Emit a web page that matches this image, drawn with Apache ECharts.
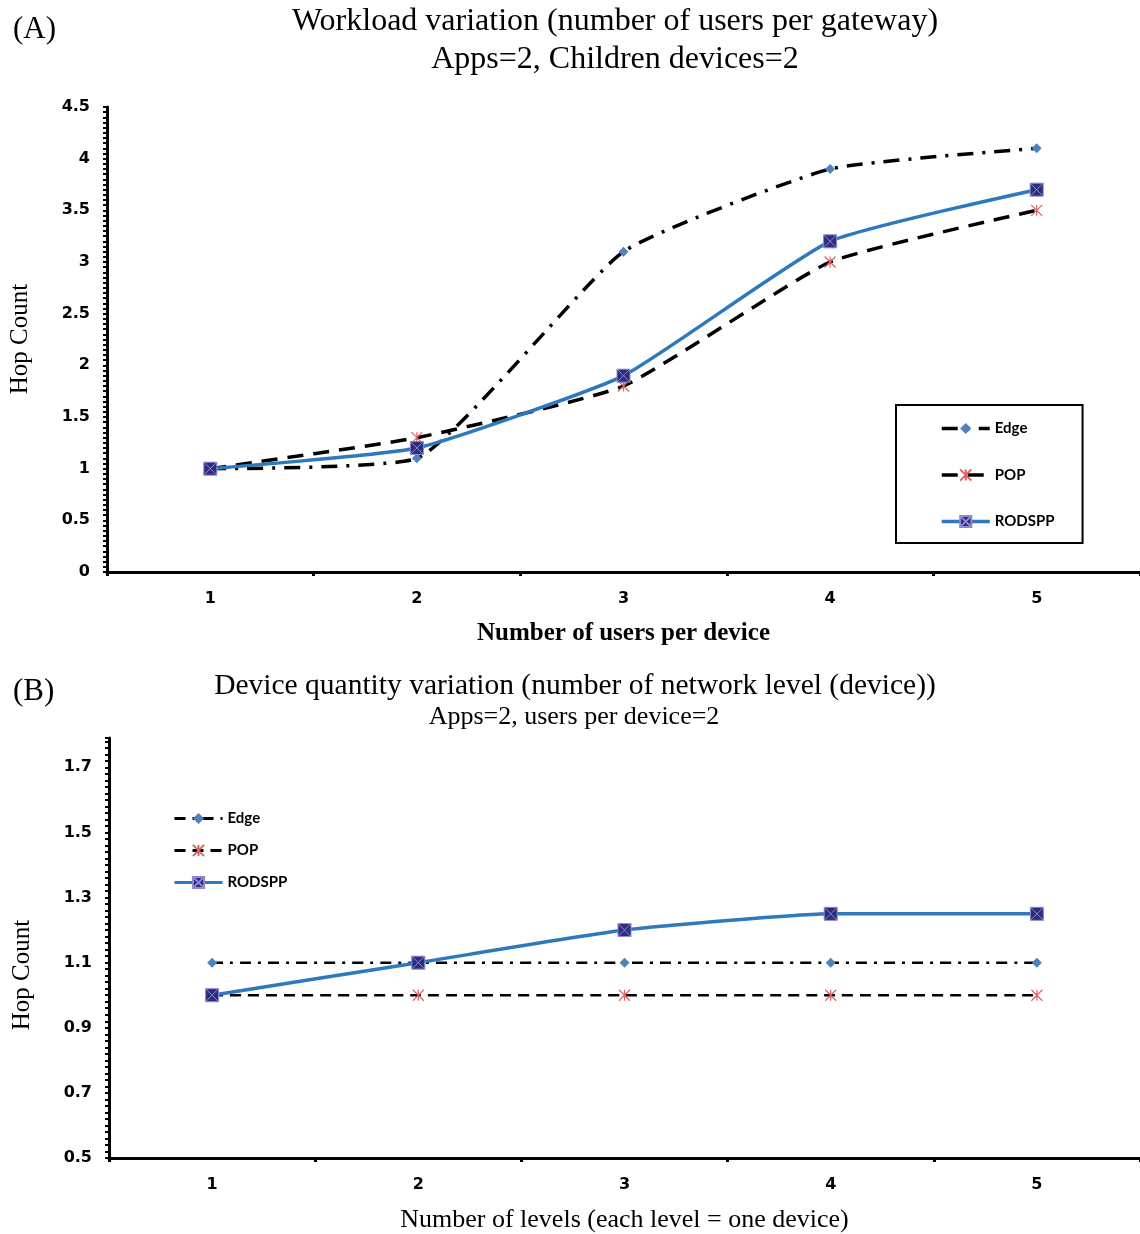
<!DOCTYPE html>
<html>
<head>
<meta charset="utf-8">
<script src="https://cdn.jsdelivr.net/npm/echarts@6/dist/echarts.min.js"></script>
<style>html,body{margin:0;padding:0;background:#fff}#c{width:1140px;height:1234px}</style>
</head>
<body>
<div id="c"></div>
<script>
const categoriesA = ['1', '2', '3', '4', '5'];
const edgeA = [1, 1.1, 3.1, 3.9, 4.1];
const popA = [1, 1.3, 1.8, 3.0, 3.5];
const rodsppA = [1, 1.2, 1.9, 3.2, 3.7];

const categoriesB = ['1', '2', '3', '4', '5'];
const edgeB = [1.1, 1.1, 1.1, 1.1, 1.1];
const popB = [1, 1, 1, 1, 1];
const rodsppB = [1, 1.1, 1.2, 1.25, 1.25];

const legendNames = ['Edge', 'POP', 'RODSPP'];

const SERIF = "'Liberation Serif', 'Times New Roman', serif";
const SANS = "'DejaVu Sans', Verdana, sans-serif";
const EDGE_C = '#4F81BD', POP_C = '#E06060', ROD_C = '#2E78BE';
const SQ_PATH = 'path://M0,0L10,0L10,10L0,10ZM0,0L10,10M10,0L0,10';
const AST_PATH = 'path://M0,0L10,10M10,0L0,10M5,0L5,10';

function series(name, data, xi, kind, w) {
  const base = { name, type: 'line', data, xAxisIndex: xi, yAxisIndex: xi, smooth: 0.15, z: 3 };
  if (kind === 'edge') {
    return Object.assign(base, {
      symbol: 'diamond', symbolSize: 10,
      itemStyle: { color: EDGE_C },
      lineStyle: { color: '#000', width: w, type: xi === 0 ? [16, 9, 3, 9] : [11, 7, 3, 7] }
    });
  }
  if (kind === 'pop') {
    return Object.assign(base, {
      symbol: AST_PATH, symbolSize: 11,
      itemStyle: { color: POP_C, borderColor: POP_C, borderWidth: 1.2 },
      lineStyle: { color: '#000', width: w, type: xi === 0 ? [16, 10] : [11, 7] }
    });
  }
  return Object.assign(base, {
    symbol: SQ_PATH, symbolSize: 13, z: 4,
    itemStyle: { color: '#2B2D7E', borderColor: '#9088CC', borderWidth: 1 },
    lineStyle: { color: ROD_C, width: 3.5, type: 'solid' }
  });
}

const xAxisCommon = (data, gap) => ({
  type: 'category', data,
  axisLine: { lineStyle: { color: '#000', width: 3 } },
  axisTick: { show: true, length: 4, lineStyle: { color: '#000', width: 3 } },
  axisLabel: { color: '#000', fontFamily: SANS, fontWeight: 'bold', fontSize: 16, margin: 19 },
  splitLine: { show: false },
  nameLocation: 'middle', nameGap: gap
});
const yAxisCommon = (min, max, interval) => ({
  type: 'value', min, max, interval,
  axisLine: { show: true, lineStyle: { color: '#000', width: 3 } },
  axisTick: { show: true, length: 4, lineStyle: { color: '#000', width: 2 } },
  minorTick: { show: true, splitNumber: 10, length: 4, lineStyle: { color: '#000', width: 2 } },
  axisLabel: { color: '#000', fontFamily: SANS, fontWeight: 'bold', fontSize: 16, margin: 17, showMaxLabel: max === 4.5 },
  splitLine: { show: false }
});

const legendText = { fontFamily: "Lato, 'Open Sans', sans-serif", fontWeight: 'bold', fontSize: 15, color: '#000' };

const chart = echarts.init(document.getElementById('c'), null, { renderer: 'canvas' });
const option = {
  animation: false,
  backgroundColor: '#fff',
  grid: [
    { left: 107, top: 107, width: 1037, height: 465 },
    { left: 109, top: 738, width: 1034, height: 421 }
  ],
  xAxis: [
    Object.assign(xAxisCommon(categoriesA, 49), {
      gridIndex: 0, name: 'Number of users per device',
      nameTextStyle: { fontFamily: SERIF, fontWeight: 'bold', fontSize: 25, color: '#000' }
    }),
    Object.assign(xAxisCommon(categoriesB, 49), {
      gridIndex: 1, name: 'Number of levels (each level = one device)',
      nameTextStyle: { fontFamily: SERIF, fontSize: 26, color: '#000' }
    })
  ],
  yAxis: [
    Object.assign(yAxisCommon(0, 4.5, 0.5), { gridIndex: 0 }),
    Object.assign(yAxisCommon(0.5, 1.79, 0.2), { gridIndex: 1 })
  ],
  legend: [
    {
      data: legendNames, orient: 'vertical', left: 896, top: 405,
      itemWidth: 48, itemHeight: 14, itemGap: 31.5,
      padding: [16, 28, 14, 44],
      borderColor: '#000', borderWidth: 2, backgroundColor: '#fff',
      lineStyle: { width: 3.5 },
      textStyle: legendText,
      selectedMode: false
    },
    {
      data: legendNames.map(n => n + ' (B)'), orient: 'vertical', left: 173, top: 811,
      itemWidth: 48, itemHeight: 14, itemGap: 17, padding: 0,
      lineStyle: { width: 3 },
      formatter: n => n.replace(' (B)', ''),
      textStyle: legendText,
      selectedMode: false
    }
  ],
  series: [
    series('Edge', edgeA, 0, 'edge', 3.5),
    series('POP', popA, 0, 'pop', 3.5),
    series('RODSPP', rodsppA, 0, 'rod', 3.5),
    series('Edge (B)', edgeB, 1, 'edge', 2.5),
    series('POP (B)', popB, 1, 'pop', 2.5),
    series('RODSPP (B)', rodsppB, 1, 'rod', 3.5)
  ],
  graphic: [
    { type: 'text', x: 13, y: 30, style: { text: '(A)', font: '31px ' + SERIF, fill: '#000', verticalAlign: 'middle' } },
    { type: 'text', x: 615, y: 22, style: { text: 'Workload variation (number of users per gateway)', font: '32px ' + SERIF, fill: '#000', align: 'center', verticalAlign: 'middle' } },
    { type: 'text', x: 615, y: 60, style: { text: 'Apps=2, Children devices=2', font: '32px ' + SERIF, fill: '#000', align: 'center', verticalAlign: 'middle' } },
    { type: 'text', x: 20, y: 339, rotation: Math.PI / 2, style: { text: 'Hop Count', font: '25px ' + SERIF, fill: '#000', align: 'center', verticalAlign: 'middle' } },
    { type: 'text', x: 13, y: 692, style: { text: '(B)', font: '31px ' + SERIF, fill: '#000', verticalAlign: 'middle' } },
    { type: 'text', x: 575, y: 686, style: { text: 'Device quantity variation (number of network level (device))', font: '29.5px ' + SERIF, fill: '#000', align: 'center', verticalAlign: 'middle' } },
    { type: 'text', x: 574, y: 717, style: { text: 'Apps=2, users per device=2', font: '26px ' + SERIF, fill: '#000', align: 'center', verticalAlign: 'middle' } },
    { type: 'text', x: 22, y: 975, rotation: Math.PI / 2, style: { text: 'Hop Count', font: '25px ' + SERIF, fill: '#000', align: 'center', verticalAlign: 'middle' } }
  ]
};
chart.setOption(option);
</script>
</body>
</html>
